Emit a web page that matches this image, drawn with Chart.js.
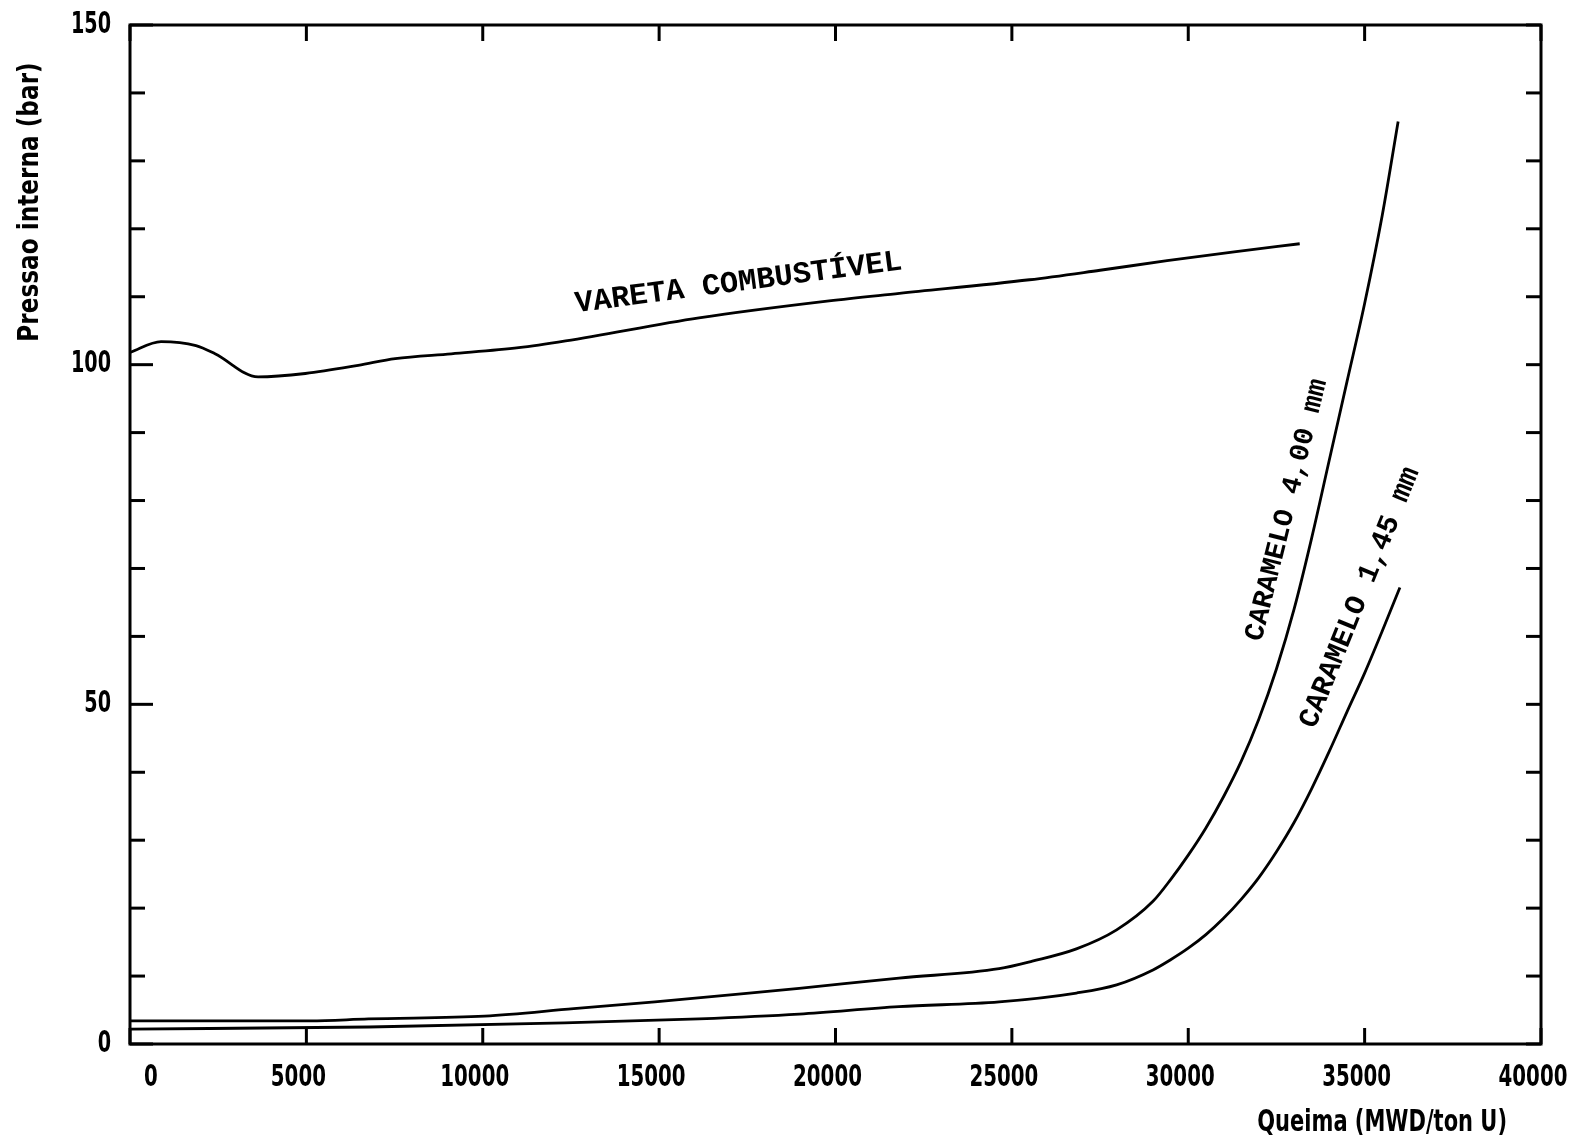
<!DOCTYPE html>
<html>
<head>
<meta charset="utf-8">
<title>Pressão interna vs queima</title>
<script src="https://cdn.jsdelivr.net/npm/chart.js@4/dist/chart.umd.min.js"></script>
<style>
  html, body { margin: 0; padding: 0; background: #fff; }
  canvas { display: block; }
</style>
</head>
<body>
<canvas id="chart" width="1575" height="1143"></canvas>
<script>
// Burnup (MWD/ton U) and internal pressure (bar) for each curve
const varetaBurnup   = [0, 880, 1870, 2410, 3630, 4970, 6470, 7520, 9110, 11020, 12350, 16130, 19820, 21810, 25500, 27500, 29400, 31300, 33160];
const varetaPressure = [101.8, 103.4, 102.8, 101.6, 98.2, 98.7, 99.9, 100.9, 101.6, 102.5, 103.5, 106.9, 109.4, 110.5, 112.5, 113.9, 115.3, 116.6, 117.8];

const caramelo400Burnup   = [0, 5110, 6760, 10050, 12580, 14880, 17400, 18970, 21800, 24640, 25580, 26830, 27970, 29000, 29500, 30000, 30500, 31000, 31500, 32000, 32500, 33000, 33500, 34000, 34500, 35000, 35500, 35950];
const caramelo400Pressure = [3.4, 3.4, 3.7, 4.1, 5.2, 6.2, 7.4, 8.2, 9.7, 11.1, 12.2, 14.0, 16.8, 21.0, 24.2, 27.8, 31.8, 36.4, 41.6, 47.8, 55.2, 64.0, 74.5, 86.0, 97.5, 109.0, 122.0, 135.8];

const caramelo145Burnup   = [0, 6770, 12320, 16130, 18970, 21800, 24640, 26830, 27970, 29000, 29500, 30000, 30500, 31000, 31500, 32000, 32500, 33000, 33500, 34000, 34500, 35000, 35500, 36000];
const caramelo145Pressure = [2.2, 2.5, 3.1, 3.7, 4.4, 5.5, 6.2, 7.5, 8.7, 10.9, 12.4, 14.1, 16.1, 18.5, 21.3, 24.5, 28.3, 32.6, 37.6, 43.1, 48.9, 54.6, 60.8, 67.2];

// Axis ranges and tick values
const burnupTicks   = [0, 5000, 10000, 15000, 20000, 25000, 30000, 35000, 40000];
const pressureMajor = [0, 50, 100, 150];
const xTitle = 'Queima (MWD/ton U)';
const yTitle = 'Pressao interna (bar)';

// Curve captions, anchored in data coordinates
const curveLabels = [
  { text: 'VARETA COMBUSTÍVEL', x: 17250, y: 112.0, angle: -7.5, size: 30.5 },
  { text: 'CARAMELO 4,00 mm',   x: 32800, y: 78.6,  angle: -76,  size: 28 },
  { text: 'CARAMELO 1,45 mm',   x: 34870, y: 65.7,  angle: -68,  size: 29 }
];

const toPoints = (xs, ys) => xs.map((v, i) => ({ x: v, y: ys[i] }));

const PLOT_FONT = "'DejaVu Sans', 'Liberation Sans', sans-serif";
const MONO = "'Liberation Mono', 'Courier New', 'DejaVu Sans Mono', monospace";

function seg(ctx, x1, y1, x2, y2) {
  ctx.beginPath();
  ctx.moveTo(x1, y1);
  ctx.lineTo(x2, y2);
  ctx.stroke();
}

// Tall, narrow bold lettering in the style of a pen plotter
function narrowText(ctx, text, x, y, size, squeeze, align) {
  ctx.save();
  ctx.translate(x, y);
  ctx.scale(squeeze, 1);
  ctx.font = `bold ${size}px ${PLOT_FONT}`;
  ctx.textAlign = align;
  ctx.textBaseline = 'middle';
  ctx.fillText(text, 0, 0);
  ctx.restore();
}

// Boxed frame with inward tick marks, tick labels, axis titles and curve captions
const framePlugin = {
  id: 'frame',
  afterDraw(chart) {
    const { ctx, chartArea: a, scales: { x, y } } = chart;
    ctx.save();
    ctx.strokeStyle = '#000';
    ctx.fillStyle = '#000';
    ctx.lineCap = 'butt';
    ctx.lineWidth = 3;
    ctx.strokeRect(a.left, a.top, a.right - a.left, a.bottom - a.top);

    y.ticks.forEach(t => {
      const py = y.getPixelForValue(t.value);
      const major = pressureMajor.includes(t.value);
      seg(ctx, a.left, py, a.left + (major ? 23 : 15), py);
      seg(ctx, a.right, py, a.right - 15, py);
      if (major) narrowText(ctx, String(t.value), a.left - 19, py, 30, 0.64, 'right');
    });
    x.ticks.forEach((t, i) => {
      const px = x.getPixelForValue(t.value);
      seg(ctx, px, a.bottom, px, a.bottom - 16);
      seg(ctx, px, a.top, px, a.top + 16);
      if (i === 0) narrowText(ctx, String(t.value), px + 14, a.bottom + 34, 30, 0.66, 'left');
      else narrowText(ctx, String(t.value), px - 8, a.bottom + 34, 30, 0.66, 'center');
    });

    // axis titles
    narrowText(ctx, xTitle, a.right - 34, a.bottom + 79, 30, 0.70, 'right');
    ctx.save();
    ctx.translate(30, 202);
    ctx.rotate(-Math.PI / 2);
    narrowText(ctx, yTitle, 0, 0, 29, 0.80, 'center');
    ctx.restore();

    // curve captions
    curveLabels.forEach(l => {
      ctx.save();
      ctx.translate(x.getPixelForValue(l.x), y.getPixelForValue(l.y));
      ctx.rotate(l.angle * Math.PI / 180);
      ctx.textAlign = 'center';
      ctx.textBaseline = 'middle';
      ctx.font = `bold ${l.size}px ${MONO}`;
      ctx.fillText(l.text, 0, 0);
      ctx.restore();
    });
    ctx.restore();
  }
};

const lineStyle = {
  borderColor: '#000',
  borderWidth: 2.8,
  pointRadius: 0,
  fill: false,
  cubicInterpolationMode: 'monotone'
};

const noPadding = s => { s.paddingLeft = 0; s.paddingRight = 0; s.paddingTop = 0; s.paddingBottom = 0; };

new Chart(document.getElementById('chart'), {
  type: 'line',
  data: {
    datasets: [
      { label: 'VARETA COMBUSTÍVEL', data: toPoints(varetaBurnup, varetaPressure), ...lineStyle },
      { label: 'CARAMELO 4,00 mm', data: toPoints(caramelo400Burnup, caramelo400Pressure), ...lineStyle },
      { label: 'CARAMELO 1,45 mm', data: toPoints(caramelo145Burnup, caramelo145Pressure), ...lineStyle }
    ]
  },
  options: {
    responsive: false,
    devicePixelRatio: 1,
    animation: false,
    layout: { padding: { top: 25, right: 34, left: 0, bottom: 0 } },
    plugins: { legend: { display: false }, tooltip: { enabled: false } },
    scales: {
      x: {
        type: 'linear',
        min: burnupTicks[0],
        max: burnupTicks[burnupTicks.length - 1],
        afterBuildTicks: s => { s.ticks = burnupTicks.map(v => ({ value: v })); },
        grid: { display: false, drawTicks: false },
        border: { display: false },
        ticks: { display: false },
        afterFit: s => { s.height = 99; noPadding(s); }
      },
      y: {
        type: 'linear',
        min: 0,
        max: 150,
        grid: { display: false, drawTicks: false },
        border: { display: false },
        ticks: { display: false, stepSize: 10 },
        afterFit: s => { s.width = 130; noPadding(s); }
      }
    }
  },
  plugins: [framePlugin]
});
</script>
</body>
</html>
